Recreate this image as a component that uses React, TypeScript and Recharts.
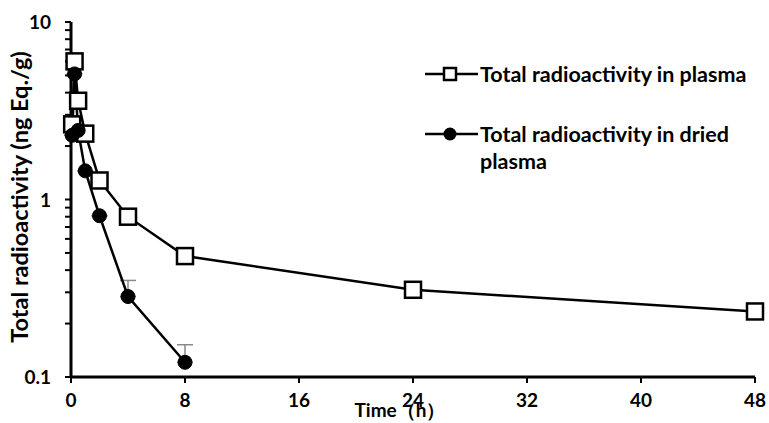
import React from 'react';
import { LineChart, Line, XAxis, YAxis, ErrorBar } from 'recharts';

const plasmaTimes = [0.083, 0.25, 0.5, 1, 2, 4, 8, 24, 48];
const plasmaValues = [2.65, 6.0, 3.6, 2.35, 1.28, 0.8, 0.48, 0.31, 0.234];
const driedTimes = [0.083, 0.25, 0.5, 1, 2, 4, 8];
const driedValues = [2.3, 5.1, 2.45, 1.45, 0.81, 0.284, 0.121];
const driedErrors = [0, 0.4, 0, 0, 0, 0.066, 0.031];
const xTicks = [0, 8, 16, 24, 32, 40, 48];
const yTicks = [0.1, 0.2, 0.3, 0.4, 0.5, 0.6, 0.7, 0.8, 0.9, 1, 2, 3, 4, 5, 6, 7, 8, 9, 10];
const yMajor = [0.1, 1, 10];
const seriesNames = ['Total radioactivity in plasma', 'Total radioactivity in dried plasma'];

const plasmaData = plasmaTimes.map((t, i) => ({ t, v: plasmaValues[i] }));
const driedData = driedTimes.map((t, i) => ({ t, v: driedValues[i], err: [0, driedErrors[i]] }));

const FONT = 'Lato, "Open Sans", sans-serif';

const SquareDot = (props: any) => {
  const { cx, cy } = props;
  if (cx == null || cy == null) return null;
  return <rect x={cx - 8} y={cy - 8} width={16} height={16} fill="#fff" stroke="#000" strokeWidth={2.5} />;
};

const CircleDot = (props: any) => {
  const { cx, cy } = props;
  if (cx == null || cy == null) return null;
  return <circle cx={cx} cy={cy} r={7} fill="#000" stroke="#000" />;
};

const YTick = (props: any) => {
  const { x, y, payload } = props;
  if (!yMajor.includes(payload.value)) return null;
  return (
    <text x={x} y={y} dy={7} textAnchor="end" fontFamily={FONT} fontWeight={700} fontSize={19} fill="#000">
      {payload.value}
    </text>
  );
};

const XTick = (props: any) => {
  const { x, y, payload } = props;
  return (
    <text x={x} y={y} dy={22} textAnchor="middle" fontFamily={FONT} fontWeight={700} fontSize={19} fill="#000">
      {payload.value}
    </text>
  );
};

const LegendBox = () => (
  <svg width={350} height={120} style={{ position: 'absolute', left: 420, top: 58 }}>
    <line x1={5} y1={16} x2={58} y2={16} stroke="#000" strokeWidth={2.5} />
    <rect x={24} y={10} width={12} height={12} fill="#fff" stroke="#000" strokeWidth={2.5} />
    <text x={60} y={24} fontFamily={FONT} fontWeight={700} fontSize={21.5} fill="#000">{seriesNames[0]}</text>
    <line x1={5} y1={76} x2={58} y2={76} stroke="#000" strokeWidth={2.5} />
    <circle cx={30} cy={76} r={6.5} fill="#000" />
    <text x={60} y={84} fontFamily={FONT} fontWeight={700} fontSize={21.5} fill="#000">Total radioactivity in dried</text>
    <text x={60} y={111} fontFamily={FONT} fontWeight={700} fontSize={21.5} fill="#000">plasma</text>
  </svg>
);

export default function App() {
  return (
    <div style={{ position: 'absolute', left: 0, top: 0, width: 769, height: 423, background: '#fff' }}>
      <LineChart width={769} height={423} margin={{ top: 22, right: 14, left: 0, bottom: 0 }}>
        <XAxis
          type="number"
          dataKey="t"
          domain={[0, 48]}
          ticks={xTicks}
          height={46}
          axisLine={{ stroke: '#000', strokeWidth: 3 }}
          tickLine={{ stroke: '#000', strokeWidth: 2 }}
          tickSize={6}
          tick={<XTick />}
          interval={0}
          allowDuplicatedCategory={false}
          label={{
            content: () => (
              <text x={400} y={417} textAnchor="middle" fontFamily={FONT} fontWeight={700} fontSize={19} fill="#000">Time（h）</text>
            ),
          }}
        />
        <YAxis
          type="number"
          scale="log"
          domain={[0.1, 10]}
          ticks={yTicks}
          width={71}
          allowDataOverflow
          axisLine={{ stroke: '#000', strokeWidth: 3 }}
          tickLine={{ stroke: '#000', strokeWidth: 2 }}
          tickSize={6}
          tickMargin={14}
          interval={0}
          tick={<YTick />}
          label={{
            content: () => (
              <text x={0} y={0} transform="translate(28,197) rotate(-90)" textAnchor="middle" fontFamily={FONT} fontWeight={700} fontSize={23.5} fill="#000">
                Total radioactivity (ng Eq./g)
              </text>
            ),
          }}
        />
        <Line
          data={plasmaData}
          dataKey="v"
          name={seriesNames[0]}
          stroke="#000"
          strokeWidth={2.5}
          dot={<SquareDot />}
          isAnimationActive={false}
        />
        <Line
          data={driedData}
          dataKey="v"
          name={seriesNames[1]}
          stroke="#000"
          strokeWidth={2.5}
          dot={<CircleDot />}
          isAnimationActive={false}
        >
          <ErrorBar dataKey="err" direction="y" width={8} stroke="#888" strokeWidth={1.5} />
        </Line>
      </LineChart>
      <LegendBox />
    </div>
  );
}
